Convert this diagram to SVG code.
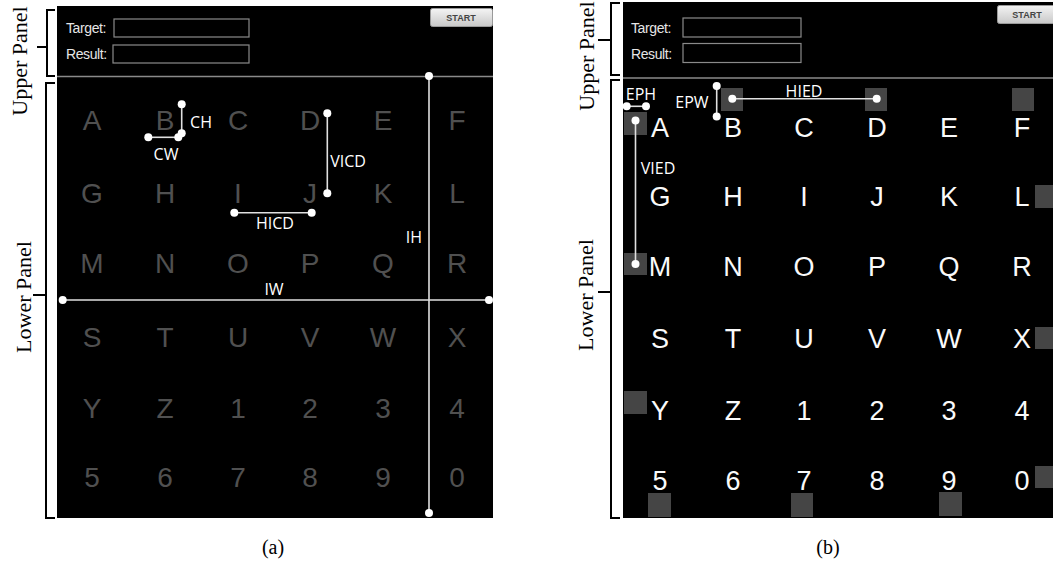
<svg xmlns="http://www.w3.org/2000/svg" width="1053" height="566" viewBox="0 0 1053 566">
<defs>
<linearGradient id="btn" x1="0" y1="0" x2="0" y2="1">
<stop offset="0" stop-color="#f4f4f4"/><stop offset="1" stop-color="#c8c8c8"/>
</linearGradient>
</defs>
<style>
.scr{fill:#000}
.div{stroke:#8a8a8a;stroke-width:1.5}
.box{fill:none;stroke:#8a8a8a;stroke-width:1.2}
.lbl{font-family:"Liberation Sans",Arial,sans-serif;font-size:14px;fill:#e6e6e6;letter-spacing:-0.4px}
.btn{fill:url(#btn);stroke:#9a9a9a;stroke-width:1}
.btt{font-family:"Liberation Sans",Arial,sans-serif;font-size:9px;font-weight:bold;fill:#444;text-anchor:middle}
.ka{font-family:"Liberation Sans",Arial,sans-serif;font-size:28px;fill:#505050;text-anchor:middle}
.kb{font-family:"Liberation Sans",Arial,sans-serif;font-size:27px;fill:#fafafa;text-anchor:middle}
.sq{fill:#454545}
.br{fill:none;stroke:#000;stroke-width:2}
.side{font-family:"Liberation Serif","Times New Roman",serif;font-size:22px;fill:#000;text-anchor:middle}
.cap{font-family:"Liberation Serif","Times New Roman",serif;font-size:20px;fill:#000;text-anchor:middle}
.ln{stroke:#e0e0e0;stroke-width:1.6;fill:none}
.dt{fill:#fff}
.an{font-family:"Open Sans","Liberation Sans",sans-serif;font-size:16px;fill:#fff;text-anchor:middle}
</style>
<rect width="1053" height="566" fill="#fff"/>

<!-- Panel (a) -->
<g id="panel-a">
<rect class="scr" x="57" y="6" width="436" height="512"/>
<line class="div" x1="57" y1="76.5" x2="493" y2="76.5"/>
<g id="a-upper">
<text class="lbl" x="66" y="33">Target:</text>
<rect class="box" x="114" y="19" width="135" height="18"/>
<text class="lbl" x="66" y="59">Result:</text>
<rect class="box" x="113" y="45" width="136" height="18"/>
<rect class="btn" x="430.5" y="8.5" width="62" height="18" rx="2"/>
<text class="btt" x="461" y="21">START</text>
</g>
<g id="a-keys">
<text class="ka" x="92" y="130">A</text><text class="ka" x="165" y="130">B</text><text class="ka" x="238" y="130">C</text><text class="ka" x="310" y="130">D</text><text class="ka" x="383" y="130">E</text><text class="ka" x="457" y="130">F</text>
<text class="ka" x="92" y="203">G</text><text class="ka" x="165" y="203">H</text><text class="ka" x="238" y="203">I</text><text class="ka" x="310" y="203">J</text><text class="ka" x="383" y="203">K</text><text class="ka" x="457" y="203">L</text>
<text class="ka" x="92" y="273">M</text><text class="ka" x="165" y="273">N</text><text class="ka" x="238" y="273">O</text><text class="ka" x="310" y="273">P</text><text class="ka" x="383" y="273">Q</text><text class="ka" x="457" y="273">R</text>
<text class="ka" x="92" y="347">S</text><text class="ka" x="165" y="347">T</text><text class="ka" x="238" y="347">U</text><text class="ka" x="310" y="347">V</text><text class="ka" x="383" y="347">W</text><text class="ka" x="457" y="347">X</text>
<text class="ka" x="92" y="418">Y</text><text class="ka" x="165" y="418">Z</text><text class="ka" x="238" y="418">1</text><text class="ka" x="310" y="418">2</text><text class="ka" x="383" y="418">3</text><text class="ka" x="457" y="418">4</text>
<text class="ka" x="92" y="487">5</text><text class="ka" x="165" y="487">6</text><text class="ka" x="238" y="487">7</text><text class="ka" x="310" y="487">8</text><text class="ka" x="383" y="487">9</text><text class="ka" x="457" y="487">0</text>
</g>
</g>

<!-- Panel (b) -->
<g id="panel-b">
<rect class="scr" x="623" y="2" width="430" height="516"/>
<line class="div" x1="623" y1="78" x2="1053" y2="78"/>
<g id="b-upper">
<text class="lbl" x="631" y="33">Target:</text>
<rect class="box" x="683" y="18" width="118" height="19"/>
<text class="lbl" x="631" y="59">Result:</text>
<rect class="box" x="683" y="43.5" width="118" height="19"/>
<rect class="btn" x="997.5" y="5.5" width="60" height="18" rx="2"/>
<text class="btt" x="1027" y="17.5">START</text>
</g>
<g id="b-targets">
<rect class="sq" x="624" y="112" width="23" height="23"/>
<rect class="sq" x="721" y="88" width="22" height="23"/>
<rect class="sq" x="865" y="88" width="22" height="23"/>
<rect class="sq" x="1012" y="88" width="22" height="23"/>
<rect class="sq" x="1035" y="185" width="18" height="23"/>
<rect class="sq" x="624" y="253" width="23" height="22"/>
<rect class="sq" x="1035" y="327" width="18" height="22"/>
<rect class="sq" x="624" y="391" width="23" height="23"/>
<rect class="sq" x="1035" y="466" width="18" height="22"/>
<rect class="sq" x="648" y="493" width="23" height="24"/>
<rect class="sq" x="791" y="493" width="22" height="24"/>
<rect class="sq" x="939" y="492" width="23" height="24"/>
</g>
<g id="b-keys">
<text class="kb" x="660" y="137">A</text><text class="kb" x="733" y="137">B</text><text class="kb" x="804" y="137">C</text><text class="kb" x="877" y="137">D</text><text class="kb" x="949" y="137">E</text><text class="kb" x="1022" y="137">F</text>
<text class="kb" x="660" y="206">G</text><text class="kb" x="733" y="206">H</text><text class="kb" x="804" y="206">I</text><text class="kb" x="877" y="206">J</text><text class="kb" x="949" y="206">K</text><text class="kb" x="1022" y="206">L</text>
<text class="kb" x="660" y="276">M</text><text class="kb" x="733" y="276">N</text><text class="kb" x="804" y="276">O</text><text class="kb" x="877" y="276">P</text><text class="kb" x="949" y="276">Q</text><text class="kb" x="1022" y="276">R</text>
<text class="kb" x="660" y="348">S</text><text class="kb" x="733" y="348">T</text><text class="kb" x="804" y="348">U</text><text class="kb" x="877" y="348">V</text><text class="kb" x="949" y="348">W</text><text class="kb" x="1022" y="348">X</text>
<text class="kb" x="660" y="420">Y</text><text class="kb" x="733" y="420">Z</text><text class="kb" x="804" y="420">1</text><text class="kb" x="877" y="420">2</text><text class="kb" x="949" y="420">3</text><text class="kb" x="1022" y="420">4</text>
<text class="kb" x="660" y="490">5</text><text class="kb" x="733" y="490">6</text><text class="kb" x="804" y="490">7</text><text class="kb" x="877" y="490">8</text><text class="kb" x="949" y="490">9</text><text class="kb" x="1022" y="490">0</text>
</g>
</g>

<!-- Measurement connectors -->
<g id="connectors">
<!-- (a) -->
<line class="ln" x1="181.7" y1="104.3" x2="181.7" y2="133.3"/>
<circle class="dt" cx="181.7" cy="104.3" r="4"/><circle class="dt" cx="181.7" cy="133.3" r="4"/>
<line class="ln" x1="148.3" y1="137.3" x2="178.3" y2="137.3"/>
<circle class="dt" cx="148.3" cy="137.3" r="4"/><circle class="dt" cx="178.3" cy="137.3" r="4"/>
<line class="ln" x1="327.3" y1="113.3" x2="327.3" y2="193.3"/>
<circle class="dt" cx="327.3" cy="113.3" r="4"/><circle class="dt" cx="327.3" cy="193.3" r="4"/>
<line class="ln" x1="234.3" y1="212.7" x2="311.7" y2="212.7"/>
<circle class="dt" cx="234.3" cy="212.7" r="4"/><circle class="dt" cx="311.7" cy="212.7" r="4"/>
<line class="ln" x1="429" y1="76" x2="429" y2="513"/>
<circle class="dt" cx="429" cy="76" r="4"/><circle class="dt" cx="429" cy="513" r="4"/>
<line class="ln" x1="62.7" y1="300" x2="489" y2="300"/>
<circle class="dt" cx="62.7" cy="300" r="4"/><circle class="dt" cx="489" cy="300" r="4"/>
<!-- (b) -->
<line class="ln" x1="626.7" y1="106.3" x2="646" y2="106.3"/>
<circle class="dt" cx="626.7" cy="106.3" r="4"/><circle class="dt" cx="646" cy="106.3" r="4"/>
<line class="ln" x1="635.5" y1="120.5" x2="635.5" y2="264"/>
<circle class="dt" cx="635.5" cy="120.5" r="4"/><circle class="dt" cx="635.5" cy="264" r="4"/>
<line class="ln" x1="716.7" y1="86" x2="716.7" y2="116.5"/>
<circle class="dt" cx="716.7" cy="86" r="4"/><circle class="dt" cx="716.7" cy="116.5" r="4"/>
<line class="ln" x1="732.3" y1="98.7" x2="876.7" y2="98.7"/>
<circle class="dt" cx="732.3" cy="98.7" r="4"/><circle class="dt" cx="876.7" cy="98.7" r="4"/>
</g>

<g id="annotation-labels">
<text class="an" x="201" y="128">CH</text>
<text class="an" x="166" y="160">CW</text>
<text class="an" x="348" y="167">VICD</text>
<text class="an" x="275" y="229">HICD</text>
<text class="an" x="414" y="243">IH</text>
<text class="an" x="274" y="295">IW</text>
<text class="an" x="641" y="100">EPH</text>
<text class="an" x="692" y="108">EPW</text>
<text class="an" x="804" y="97">HIED</text>
<text class="an" x="658" y="174">VIED</text>
</g>

<!-- Brackets and side labels -->
<g id="bracket-a-upper">
<path class="br" d="M55,10 H47 V76 H55 M47,47 H37"/>
<text class="side" transform="translate(27,61) rotate(-90)">Upper Panel</text>
</g>
<g id="bracket-a-lower">
<path class="br" d="M55,83 H46 V518 H55 M46,295 H33"/>
<text class="side" transform="translate(31,297) rotate(-90)">Lower Panel</text>
</g>
<g id="bracket-b-upper">
<path class="br" d="M620,3 H611 V75 H620 M611,40 H598"/>
<text class="side" transform="translate(594,56) rotate(-90)">Upper Panel</text>
</g>
<g id="bracket-b-lower">
<path class="br" d="M620,80 H611 V518 H620 M611,292 H598"/>
<text class="side" transform="translate(593,295) rotate(-90)">Lower Panel</text>
</g>

<text class="cap" x="273" y="554">(a)</text>
<text class="cap" x="828" y="554">(b)</text>
</svg>
